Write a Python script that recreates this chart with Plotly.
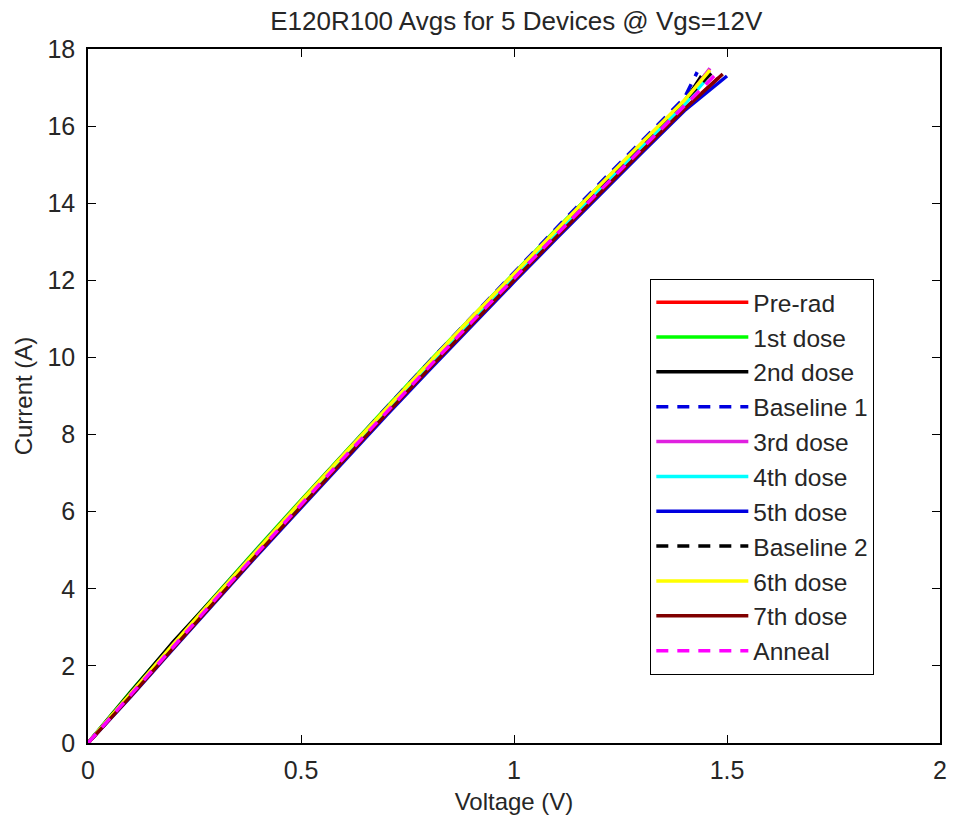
import plotly.graph_objects as go

# Series names, colours and dash styles
names = ["Pre-rad", "1st dose", "2nd dose", "Baseline 1", "3rd dose", "4th dose",
         "5th dose", "Baseline 2", "6th dose", "7th dose", "Anneal"]
colors = ["#ff0000", "#00ff00", "#000000", "#0000e0", "#e020e0", "#00ffff",
          "#0000e0", "#000000", "#ffff00", "#800000", "#ff00ff"]
dashes = ["solid", "solid", "solid", "12px,9px", "solid", "solid",
          "solid", "12px,9px", "solid", "solid", "12px,9px"]

# Common voltage grid (V) and per-series end voltages
v_grid = [0.0, 0.1, 0.2, 0.3, 0.4, 0.5, 0.6, 0.7, 0.8, 0.9, 1.0, 1.1, 1.2, 1.3, 1.4]
v_end = [1.48, 1.45, 1.44, 1.43, 1.46, 1.45, 1.50, 1.47, 1.46, 1.49, 1.47]

# Currents (A)
i_prerad = [0, 1.22, 2.47, 3.72, 4.95, 6.15, 7.36, 8.55, 9.72, 10.88, 12.02, 13.14, 14.26, 15.36, 16.45, 17.25]
i_dose1 = [0, 1.33, 2.60, 3.85, 5.08, 6.30, 7.51, 8.70, 9.88, 11.04, 12.19, 13.33, 14.45, 15.56, 16.66, 17.35]
i_dose2 = [0, 1.30, 2.62, 3.82, 5.06, 6.27, 7.48, 8.67, 9.84, 11.00, 12.15, 13.29, 14.41, 15.52, 16.62, 17.30]
i_base1 = [0, 1.28, 2.55, 3.81, 5.05, 6.27, 7.49, 8.69, 9.88, 11.05, 12.21, 13.36, 14.50, 15.62, 16.73, 17.40]
i_dose3 = [0, 1.26, 2.52, 3.77, 5.00, 6.21, 7.42, 8.61, 9.79, 10.96, 12.12, 13.26, 14.39, 15.51, 16.62, 17.50]
i_dose4 = [0, 1.27, 2.54, 3.78, 5.01, 6.22, 7.43, 8.62, 9.80, 10.96, 12.11, 13.24, 14.36, 15.47, 16.56, 17.20]
i_dose5 = [0, 1.20, 2.44, 3.68, 4.90, 6.10, 7.30, 8.49, 9.66, 10.82, 11.96, 13.09, 14.21, 15.31, 16.40, 17.30]
i_base2 = [0, 1.25, 2.51, 3.76, 4.99, 6.21, 7.42, 8.62, 9.81, 10.98, 12.14, 13.29, 14.42, 15.55, 16.66, 17.45]
i_dose6 = [0, 1.29, 2.56, 3.81, 5.05, 6.27, 7.48, 8.68, 9.86, 11.03, 12.18, 13.32, 14.45, 15.57, 16.67, 17.45]
i_dose7 = [0, 1.21, 2.46, 3.70, 4.93, 6.13, 7.34, 8.53, 9.70, 10.86, 12.00, 13.13, 14.25, 15.35, 16.44, 17.35]
i_anneal = [0, 1.23, 2.49, 3.74, 4.97, 6.18, 7.39, 8.58, 9.75, 10.91, 12.06, 13.19, 14.31, 15.42, 16.52, 17.30]

currents = [i_prerad, i_dose1, i_dose2, i_base1, i_dose3, i_dose4,
            i_dose5, i_base2, i_dose6, i_dose7, i_anneal]

x_ticks = [0, 0.5, 1, 1.5, 2]
x_ticklabels = ["0", "0.5", "1", "1.5", "2"]
y_ticks = list(range(0, 19, 2))

font_family = "Liberation Sans, Arial, sans-serif"
txt = "#262626"

fig = go.Figure()
for name, col, dsh, ve, cur in zip(names, colors, dashes, v_end, currents):
    fig.add_trace(go.Scatter(
        x=v_grid + [ve], y=cur, mode="lines", name=name,
        line=dict(color=col, width=3.5, dash=dsh),
    ))

fig.update_layout(
    width=956, height=820,
    margin=dict(l=88, r=9, t=49, b=74),
    paper_bgcolor="white", plot_bgcolor="white",
    font=dict(family=font_family, size=25, color=txt),
    title=dict(text="E120R100 Avgs for 5 Devices @ Vgs=12V", x=0.54, xanchor="center",
               xref="container", yref="container",
               y=0.975, yanchor="middle", font=dict(size=26, color=txt)),
    showlegend=True,
    legend=dict(x=0.66, y=0.669, xanchor="left", yanchor="top",
                bgcolor="white", bordercolor="black", borderwidth=1,
                font=dict(size=24.5, color=txt), itemwidth=92,
                tracegroupgap=0),
)
fig.update_xaxes(range=[0, 2], tickvals=x_ticks, ticktext=x_ticklabels,
                 ticks="inside", ticklen=8, tickcolor="black", ticklabelstandoff=4,
                 showline=True, linecolor="black", linewidth=1.5, mirror="ticks",
                 showgrid=False, zeroline=False,
                 title=dict(text="Voltage (V)", standoff=10, font=dict(size=24)))
fig.update_yaxes(range=[0, 18], tickvals=y_ticks,
                 ticks="inside", ticklen=8, tickcolor="black", ticklabelstandoff=6,
                 showline=True, linecolor="black", linewidth=1.5, mirror="ticks",
                 showgrid=False, zeroline=False,
                 title=dict(text="Current (A)", standoff=8, font=dict(size=24)))

fig.write_html("out.html")
